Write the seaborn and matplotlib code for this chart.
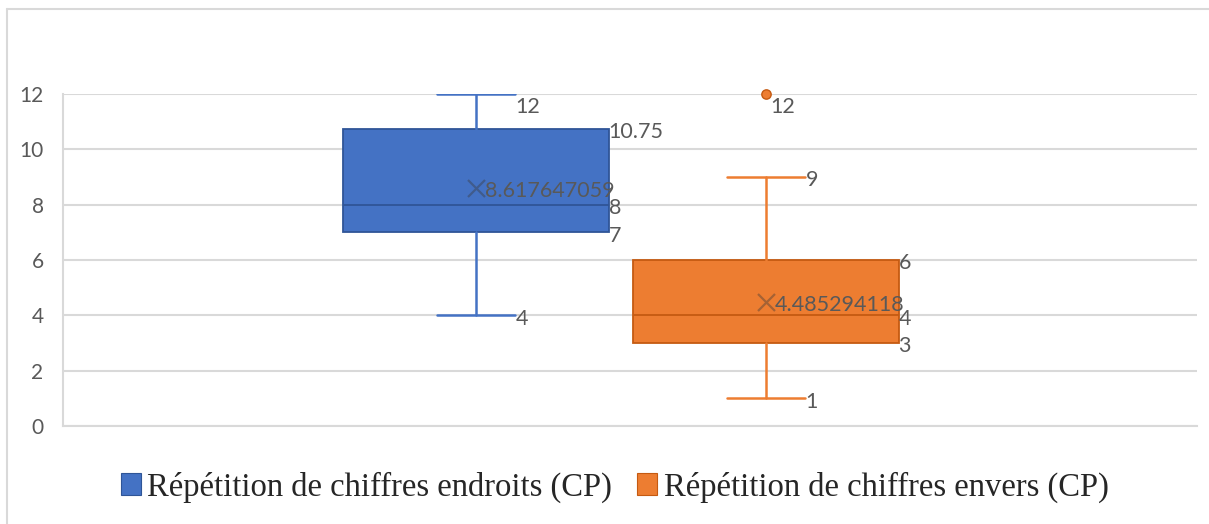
import matplotlib
matplotlib.use("Agg")
import matplotlib.pyplot as plt
from matplotlib.patches import Patch
from matplotlib.lines import Line2D
import seaborn as sns
import pandas as pd

# Summary statistics for the two digit-span series (Excel-style box plot)
series_names = ["Répétition de chiffres endroits (CP)", "Répétition de chiffres envers (CP)"]
whisker_low = [4, 1]
q1 = [7, 3]
median = [8, 4]
q3 = [10.75, 6]
whisker_high = [12, 9]
means = [8.617647059, 4.485294118]
outliers = [[], [12]]
y_ticks = [0, 2, 4, 6, 8, 10, 12]

fill_colors = ["#4472C4", "#ED7D31"]
edge_colors = ["#2F5597", "#C55A11"]
label_color = "#595959"
grid_color = "#D9D9D9"

sns.set_theme(style="white")
plt.rcParams["font.family"] = ["Lato", "DejaVu Sans"]

fig = plt.figure(figsize=(12.09, 5.24), dpi=100)
ax = fig.add_axes([63 / 1209, 1 - 426 / 524, (1197 - 63) / 1209, (426 - 94) / 524])

positions = [0, 1]
box_w = 0.914
cap_w = 0.272

for i in range(2):
    stats = [{
        "med": median[i], "q1": q1[i], "q3": q3[i],
        "whislo": whisker_low[i], "whishi": whisker_high[i],
        "fliers": [], "mean": means[i], "label": series_names[i],
    }]
    ax.bxp(
        stats, positions=[positions[i]], widths=box_w, patch_artist=True,
        showfliers=False, showmeans=False, capwidths=cap_w,
        boxprops=dict(facecolor=fill_colors[i], edgecolor=edge_colors[i], linewidth=1.3),
        medianprops=dict(color=edge_colors[i], linewidth=1.3),
        whiskerprops=dict(color=fill_colors[i], linewidth=1.8),
        capprops=dict(color=fill_colors[i], linewidth=1.8),
        zorder=3,
    )

# Mean markers
mean_df = pd.DataFrame({"x": positions, "y": means})
sns.scatterplot(data=mean_df, x="x", y="y", marker="x", s=150, color="#3a3a3a",
                alpha=0.4, linewidth=1.6, ax=ax, zorder=4, legend=False)

# Outlier points
out_x = [positions[i] for i in range(2) for _ in outliers[i]]
out_y = [v for i in range(2) for v in outliers[i]]
out_c = [fill_colors[i] for i in range(2) for _ in outliers[i]]
if out_x:
    sc = ax.scatter(out_x, out_y, s=45, c=out_c, edgecolors=[edge_colors[1]] * len(out_x),
                    linewidths=1, zorder=5)
    sc.set_clip_on(False)

ax.set_xlim(-1.424, 2.486)
ax.set_ylim(0, 12)
ax.set_yticks(y_ticks)
ax.set_xticks([])
ax.yaxis.grid(True, color=grid_color, linewidth=1.5, zorder=0)
ax.set_axisbelow(True)
for side in ["top", "right"]:
    ax.spines[side].set_visible(False)
ax.spines["left"].set_color(grid_color)
ax.spines["left"].set_linewidth(1.5)
ax.spines["bottom"].set_color(grid_color)
ax.spines["bottom"].set_linewidth(1.5)
ax.tick_params(axis="y", length=0, pad=14, labelsize=15, labelcolor=label_color)
ax.set_xlabel("")
ax.set_ylabel("")

# Data labels
def fmt(v):
    return f"{v:g}" if abs(v - round(v, 2)) < 1e-9 else f"{v:.9f}"

lab_kw = dict(fontsize=15.5, color=label_color, zorder=6, annotation_clip=False,
              textcoords="offset points")

def label(x, y, text, va="center", dy=-2.5):
    ax.annotate(text, (x, y), xytext=(0, dy), ha="left", va=va, **lab_kw)

for i, x in enumerate(positions):
    cap_right = x + cap_w / 2
    box_right = x + box_w / 2
    if whisker_high[i] >= 12:
        label(cap_right, whisker_high[i], fmt(whisker_high[i]), va="top", dy=-2)
    else:
        label(cap_right, whisker_high[i], fmt(whisker_high[i]))
    label(cap_right, whisker_low[i], fmt(whisker_low[i]))
    label(box_right, q3[i], fmt(q3[i]))
    label(box_right, median[i], fmt(median[i]))
    label(box_right, q1[i], fmt(q1[i]))
    label(x + 0.03, means[i], f"{means[i]:.9f}")
    for v in outliers[i]:
        label(x + 0.015, v, fmt(v), va="top", dy=-2)

# Legend
handles = [Patch(facecolor=fill_colors[i], edgecolor=edge_colors[i], linewidth=0.8,
                 label=series_names[i]) for i in range(2)]
fig.legend(handles=handles, loc="center", bbox_to_anchor=(0.5 + 10 / 1209, 1 - 487 / 524),
           ncol=2, frameon=False, prop={"family": "Liberation Serif", "size": 23.5},
           handlelength=0.62, handleheight=0.62, handletextpad=0.2, columnspacing=0.75)

# Chart area border (top and left edges)
fig.add_artist(Line2D([7 / 1209, 1], [1 - 9 / 524, 1 - 9 / 524], color="#D9D9D9",
                      linewidth=1.5, transform=fig.transFigure))
fig.add_artist(Line2D([7 / 1209, 7 / 1209], [0, 1 - 9 / 524], color="#D9D9D9",
                      linewidth=1.5, transform=fig.transFigure))

fig.savefig("out.png", dpi=100)
